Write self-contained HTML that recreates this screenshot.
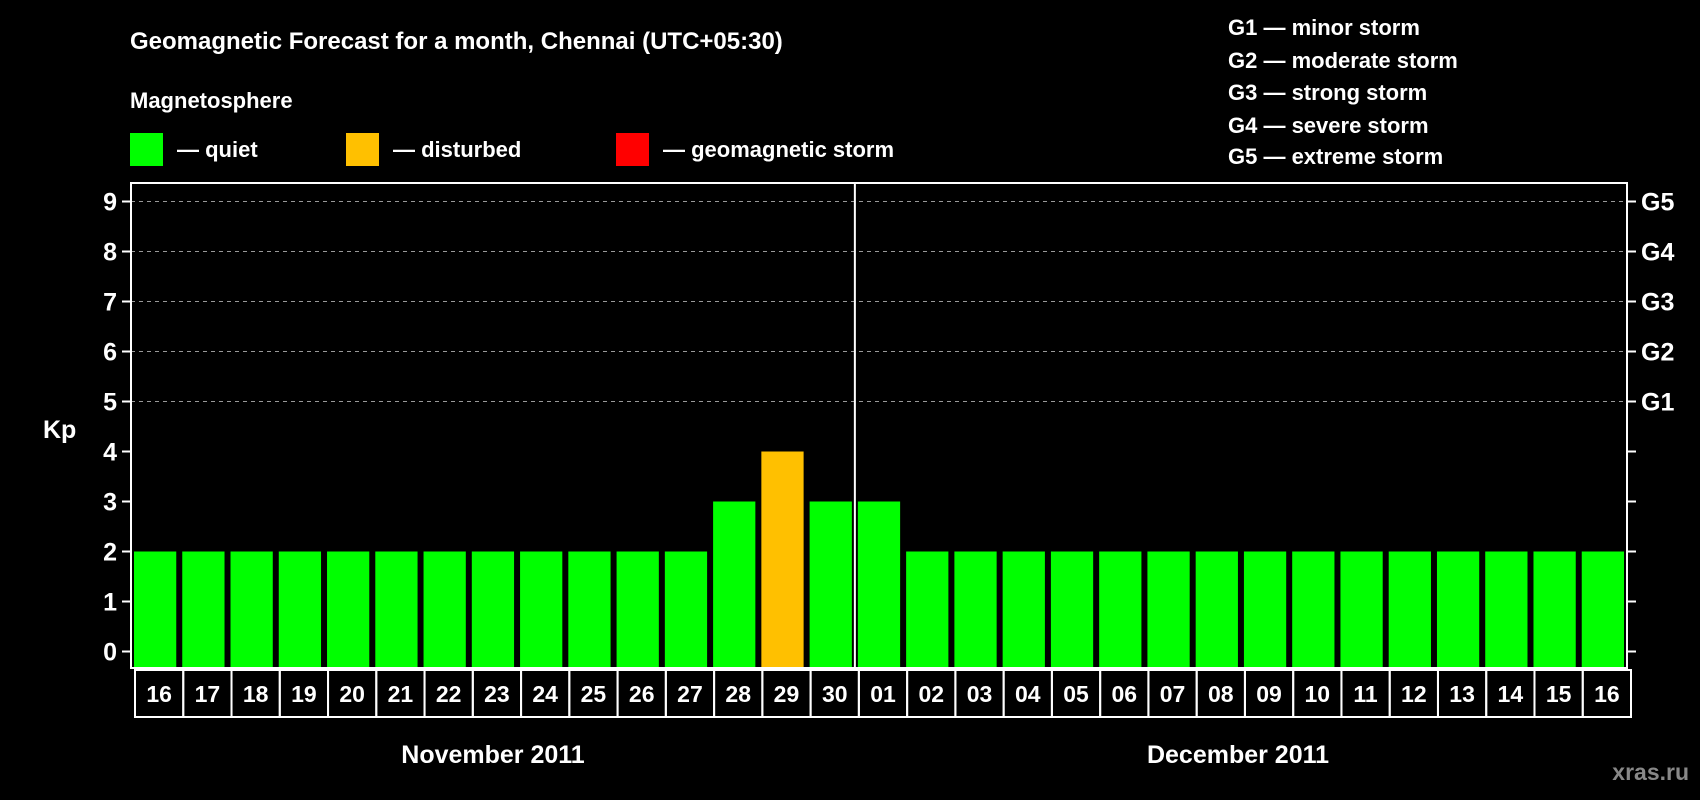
<!DOCTYPE html>
<html><head><meta charset="utf-8"><style>
html,body{margin:0;padding:0;background:#000;width:1700px;height:800px;overflow:hidden}
svg{display:block;font-family:"Liberation Sans",Arial,sans-serif;font-weight:bold}
</style></head><body>
<svg id="c" width="1700" height="800">
<text x="130" y="49" fill="#fff" font-size="24">Geomagnetic Forecast for a month, Chennai (UTC+05:30)</text>
<text x="130" y="108" fill="#fff" font-size="22">Magnetosphere</text>
<rect x="130" y="133" width="33" height="33" fill="#00ff00"/>
<text x="177" y="157" fill="#fff" font-size="22">— quiet</text>
<rect x="346" y="133" width="33" height="33" fill="#ffc000"/>
<text x="393" y="157" fill="#fff" font-size="22">— disturbed</text>
<rect x="616" y="133" width="33" height="33" fill="#ff0000"/>
<text x="663" y="157" fill="#fff" font-size="22">— geomagnetic storm</text>
<g font-size="22" fill="#fff">
<text x="1228" y="35">G1 — minor storm</text>
<text x="1228" y="68">G2 — moderate storm</text>
<text x="1228" y="100">G3 — strong storm</text>
<text x="1228" y="133">G4 — severe storm</text>
<text x="1228" y="164">G5 — extreme storm</text>
</g>
<text x="43" y="438" fill="#fff" font-size="25">Kp</text>
<g id="plot"></g>
<text x="493" y="763" fill="#fff" font-size="25" text-anchor="middle">November 2011</text>
<text x="1238" y="763" fill="#fff" font-size="25" text-anchor="middle">December 2011</text>
<text x="1689" y="780" fill="#888" font-size="23" text-anchor="end">xras.ru</text>
</svg>
<script>
const days=["16","17","18","19","20","21","22","23","24","25","26","27","28","29","30","01","02","03","04","05","06","07","08","09","10","11","12","13","14","15","16"];
const kp=[2,2,2,2,2,2,2,2,2,2,2,2,3,4,3,3,2,2,2,2,2,2,2,2,2,2,2,2,2,2,2];
const yTicks=[0,1,2,3,4,5,6,7,8,9];
const gLabels=["G1","G2","G3","G4","G5"];
const monthSplit=15;
const NS="http://www.w3.org/2000/svg";
const L=131,R=1627,T=183,B=668,Y0=651.5,U=50;
const pitch=(R-L)/days.length;
const y=v=>Y0-v*U;
const x=i=>L+i*pitch;
const g=document.getElementById('plot');
function mk(t,a){const e=document.createElementNS(NS,t);for(const k in a)e.setAttribute(k,a[k]);g.appendChild(e);return e;}
yTicks.forEach(v=>{
 if(v>=5){const l=mk('line',{x1:L,x2:R,y1:y(v),y2:y(v),stroke:'#999','stroke-width':1,'stroke-dasharray':'4,4'});
 
 }
 const t1=mk('line',{x1:L-9,x2:L,y1:y(v),y2:y(v),stroke:'#fff','stroke-width':2});
 
 
 const t2=mk('line',{x1:R,x2:R+9,y1:y(v),y2:y(v),stroke:'#fff','stroke-width':2});
 
 
 const tx=mk('text',{x:L-14,y:y(v)+9,fill:'#fff','font-size':25,'text-anchor':'end'});tx.textContent=v;
 
 
 if(v>=5){const gt=mk('text',{x:R+14,y:y(v)+9,fill:'#fff','font-size':25});gt.textContent=gLabels[v-5];
 
 }
});
kp.forEach((v,i)=>{
 const col=v>=5?'#ff0000':(v>=4?'#ffc000':'#00ff00');
 const b=mk('rect',{x:x(i)+3,y:y(v),width:pitch-6,height:y(-0.35)-y(v),fill:col});
 
 
 const c=mk('rect',{x:x(i)+4,y:B+2,width:pitch,height:47,fill:'none',stroke:'#fff','stroke-width':2});
 
 
 const t=mk('text',{x:x(i)+4+pitch/2,y:B+34,fill:'#fff','font-size':23,'text-anchor':'middle'});t.textContent=days[i];
 
 
});
const f=mk('rect',{x:L,y:T,width:R-L,height:B-T,fill:'none',stroke:'#fff','stroke-width':2});


const s=mk('line',{x1:x(monthSplit),x2:x(monthSplit),y1:T,y2:B,stroke:'#fff','stroke-width':2});


</script>
</body></html>
